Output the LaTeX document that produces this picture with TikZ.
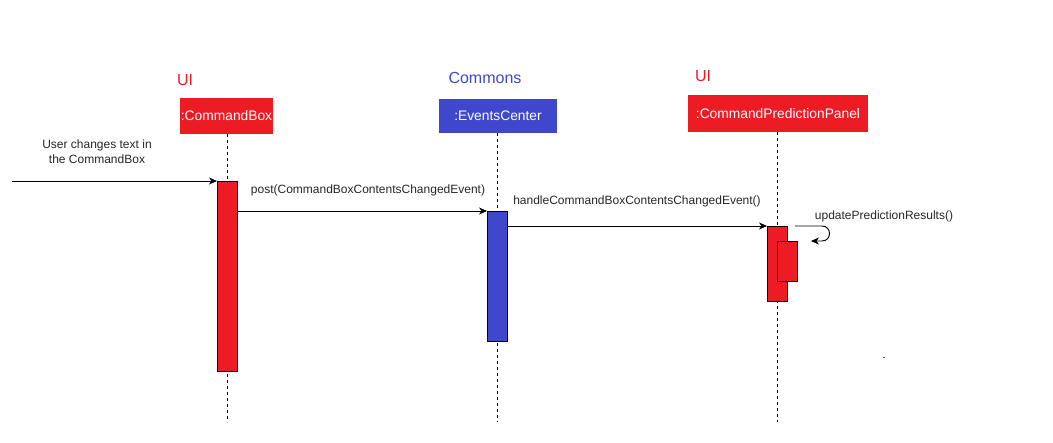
\documentclass[tikz,border=0pt]{standalone}
\usepackage{fontspec}
\setmainfont{Liberation Sans}
\usetikzlibrary{arrows.meta}
\definecolor{uired}{HTML}{ED1C24}
\definecolor{cblue}{HTML}{3F48CC}
\tikzset{
  htext/.style={text=white, font=\fontsize{13.8}{16}\selectfont, inner sep=0pt},
  lifeline/.style={line width=0.8pt, dash pattern=on 3pt off 3pt},
  act/.style={draw=black, fill=#1, line width=0.8pt},
  msg/.style={line width=0.9pt, -{Stealth[length=8pt,width=7pt,inset=2.5pt]}},
  lbl/.style={font=\fontsize{12}{14}\selectfont, text=black!85, inner sep=0pt},
  pkg/.style={font=\fontsize{16}{18}\selectfont, text=#1, inner sep=0pt}
}
\begin{document}
\begin{tikzpicture}[x=1pt,y=-1pt]
\useasboundingbox (0,0) rectangle (1053,443);
% headers
\fill[uired] (180,98) rectangle (273,134);
\node[htext] (cb) at (226.5,116) {:CommandBox};
\fill[cblue] (439,99) rectangle (557,133);
\node[htext] (ec) at (498,116) {:EventsCenter};
\fill[uired] (688,95) rectangle (868,132);
\node[htext] (cpp) at (778,114) {:CommandPredictionPanel};
% package labels
\node[pkg=uired] (ui1) at (185,80) {UI};
\node[pkg=cblue] (com) at (485,78) {Commons};
\node[pkg=uired] (ui2) at (703,76) {UI};
% lifelines
\coordinate (l1t) at (227,134); \coordinate (l1b) at (227,422);
\coordinate (l2t) at (497,133); \coordinate (l2b) at (497,422);
\coordinate (l3t) at (777,132); \coordinate (l3b) at (777,422);
\draw[lifeline] (l1t) -- (l1b);
\draw[lifeline] (l2t) -- (l2b);
\draw[lifeline] (l3t) -- (l3b);
% activations
\draw[act=uired] (217,181) rectangle (237,371);
\draw[act=cblue] (487,211) rectangle (507,341);
\draw[act=uired] (767,226) rectangle (787,301);
\draw[act=uired] (777,241) rectangle (797,281);
% messages
\coordinate (start) at (12,181);
\coordinate (a1) at (217,181);
\draw[msg] (start) -- (a1);
\node[lbl, align=center] (ulab) at (97,152) {User changes text in\\[1pt]the CommandBox};
\coordinate (p1) at (237,211);
\coordinate (p2) at (487,211);
\draw[msg] (p1) -- (p2);
\node[lbl] (plab) at (368,190) {post(CommandBoxContentsChangedEvent)};
\coordinate (h1) at (507,226);
\coordinate (h2) at (767,226);
\draw[msg] (h1) -- (h2);
\node[lbl] (hlab) at (637,201) {handleCommandBoxContentsChangedEvent()};
\coordinate (s1) at (795,226);
\coordinate (s2) at (811,241);
\draw[msg] (s1) -- (822,226) .. controls (832,226) and (832,241) .. (822,241) -- (s2);
\node[lbl] (slab) at (884,216) {updatePredictionResults()};
\fill[black!70] (883,357) rectangle (884.5,358);
\end{tikzpicture}
\end{document}
